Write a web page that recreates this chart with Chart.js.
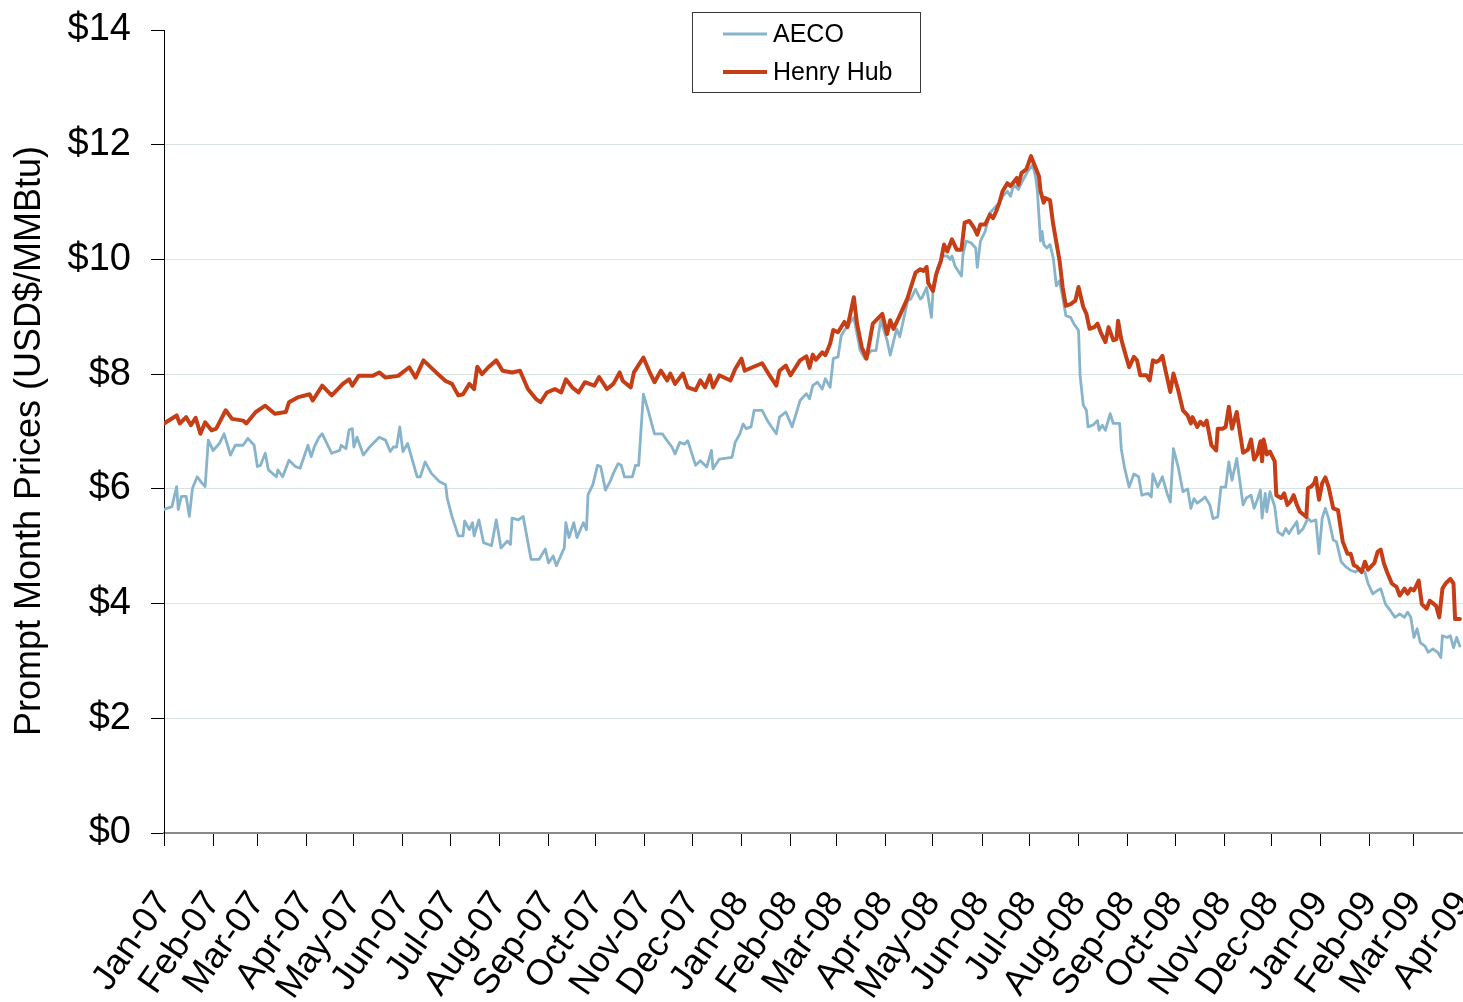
<!DOCTYPE html>
<html>
<head>
<meta charset="utf-8">
<title>AECO vs Henry Hub</title>
<script src="https://cdn.jsdelivr.net/npm/chart.js@4.4.0/dist/chart.umd.min.js"></script>
<style>
  html, body { margin: 0; padding: 0; background: #fff; overflow: hidden; }
  #wrap { position: relative; width: 1463px; height: 1002px; }
</style>
</head>
<body>
<div id="wrap"><canvas id="priceChart"></canvas></div>
<script>
// month axis (days counted from 1 Jan 2007)
const monthStarts = [0, 31, 59, 90, 120, 151, 181, 212, 243, 273, 304, 334,
  365, 396, 425, 456, 486, 517, 547, 578, 609, 639, 670, 700, 731, 762, 790, 821];
const monthLabels = ['Jan-07', 'Feb-07', 'Mar-07', 'Apr-07', 'May-07', 'Jun-07', 'Jul-07', 'Aug-07',
  'Sep-07', 'Oct-07', 'Nov-07', 'Dec-07', 'Jan-08', 'Feb-08', 'Mar-08', 'Apr-08', 'May-08', 'Jun-08',
  'Jul-08', 'Aug-08', 'Sep-08', 'Oct-08', 'Nov-08', 'Dec-08', 'Jan-09', 'Feb-09', 'Mar-09', 'Apr-09'];
const priceTicks = [0, 2, 4, 6, 8, 10, 12, 14];
const yTitle = 'Prompt Month Prices (USD$/MMBtu)';

// AECO prompt month price, USD/MMBtu
const aecoDays = [0, 5, 8, 9, 11, 14, 16, 18, 21, 24, 26, 28, 31, 35, 38, 42, 45, 50, 53, 57, 59, 61, 64, 66,
  71, 72, 75, 79, 83, 86, 91, 93, 95, 98, 100, 106, 111, 112, 115, 117, 119, 120, 122, 126, 130, 136,
  140, 143, 145, 147, 149, 151, 154, 157, 160, 162, 165, 169, 174, 178, 179, 182, 186, 189, 190, 193,
  195, 196, 199, 202, 207, 210, 213, 217, 219, 220, 224, 227, 232, 237, 241, 243, 246, 248, 253, 254,
  256, 259, 261, 265, 267, 268, 271, 274, 276, 279, 282, 284, 287, 289, 291, 296, 298, 300, 303, 306,
  310, 315, 318, 321, 323, 326, 329, 331, 336, 339, 343, 346, 347, 351, 359, 361, 364, 366, 368, 371,
  373, 378, 382, 387, 389, 393, 397, 402, 406, 408, 410, 413, 416, 418, 421, 423, 426, 428, 430, 436,
  440, 443, 447, 450, 453, 457, 459, 463, 465, 470, 472, 475, 478, 479, 482, 485, 486, 489, 492, 495,
  497, 498, 500, 504, 505, 507, 510, 513, 514, 516, 519, 522, 525, 528, 530, 533, 535, 537, 540, 543,
  546, 549, 551, 552, 554, 555, 556, 558, 560, 562, 564, 566, 568, 570, 573, 575, 578, 579, 581, 583,
  584, 587, 590, 591, 593, 595, 598, 600, 604, 605, 607, 610, 613, 616, 618, 622, 624, 625, 628, 631,
  634, 636, 638, 641, 644, 647, 649, 651, 653, 656, 658, 661, 663, 666, 668, 671, 673, 675, 678, 682,
  684, 687, 689, 691, 693, 694, 696, 697, 699, 702, 704, 707, 709, 711, 713, 716, 717, 720, 723, 725,
  728, 730, 732, 734, 736, 739, 741, 744, 747, 750, 753, 756, 759, 761, 764, 767, 769, 772, 775, 778,
  781, 784, 786, 788, 790, 792, 794, 797, 799, 802, 805, 807, 808, 811, 813, 815, 817, 819];
const aecoPrices = [5.64, 5.69, 6.04, 5.64, 5.87, 5.87, 5.52, 6.01, 6.21, 6.10, 6.04, 6.85, 6.67, 6.79, 6.96,
  6.59, 6.76, 6.76, 6.88, 6.76, 6.39, 6.41, 6.62, 6.33, 6.21, 6.33, 6.21, 6.50, 6.39, 6.36, 6.76, 6.56,
  6.73, 6.90, 6.96, 6.62, 6.67, 6.76, 6.70, 7.03, 7.05, 6.73, 6.90, 6.59, 6.73, 6.90, 6.85, 6.65, 6.73,
  6.73, 7.08, 6.65, 6.79, 6.50, 6.21, 6.21, 6.47, 6.27, 6.13, 6.07, 5.84, 5.52, 5.18, 5.18, 5.44, 5.29,
  5.41, 5.18, 5.46, 5.06, 5.01, 5.46, 4.97, 5.09, 5.03, 5.49, 5.46, 5.52, 4.77, 4.77, 4.95, 4.71, 4.83,
  4.66, 4.97, 5.41, 5.15, 5.41, 5.15, 5.41, 5.29, 5.90, 6.07, 6.41, 6.39, 5.98, 6.13, 6.27, 6.44, 6.41,
  6.21, 6.21, 6.41, 6.41, 7.65, 7.37, 6.96, 6.96, 6.84, 6.73, 6.61, 6.81, 6.78, 6.84, 6.41, 6.49, 6.38,
  6.67, 6.35, 6.52, 6.55, 6.81, 6.96, 7.13, 7.05, 7.08, 7.37, 7.37, 7.16, 6.96, 7.25, 7.34, 7.08, 7.54,
  7.66, 7.57, 7.80, 7.86, 7.74, 7.92, 7.77, 8.27, 8.30, 8.67, 8.76, 8.99, 8.41, 8.27, 8.41, 8.41, 8.94,
  8.59, 8.33, 8.79, 8.65, 9.28, 9.31, 9.48, 9.31, 9.33, 9.51, 8.99, 9.42, 9.86, 10.06, 10.06, 10.00,
  10.06, 9.88, 9.71, 10.09, 10.32, 10.29, 10.20, 9.86, 10.32, 10.49, 10.81, 10.90, 10.99, 11.10, 11.19,
  11.10, 11.30, 11.22, 11.39, 11.54, 11.65, 11.42, 11.19, 10.32, 10.49, 10.26, 10.20, 10.26, 10.03, 9.54,
  9.63, 9.34, 9.02, 8.99, 8.88, 8.76, 7.98, 7.46, 7.37, 7.08, 7.11, 7.19, 7.02, 7.11, 7.02, 7.31, 7.14,
  7.14, 6.70, 6.38, 6.03, 6.26, 6.21, 5.89, 5.92, 5.86, 6.26, 6.03, 6.21, 5.92, 5.77, 6.70, 6.38, 5.95,
  6.00, 5.66, 5.83, 5.75, 5.81, 5.86, 5.72, 5.48, 5.51, 6.03, 6.03, 6.47, 6.15, 6.53, 5.72, 5.84, 5.89,
  5.66, 5.81, 5.98, 5.49, 5.92, 5.60, 5.95, 5.69, 5.25, 5.19, 5.31, 5.22, 5.31, 5.43, 5.22, 5.31, 5.49,
  5.43, 5.46, 4.87, 5.49, 5.66, 5.49, 5.11, 5.08, 4.73, 4.64, 4.58, 4.55, 4.61, 4.55, 4.35, 4.17, 4.23,
  4.26, 3.99, 3.88, 3.76, 3.82, 3.76, 3.85, 3.76, 3.41, 3.56, 3.32, 3.26, 3.15, 3.21, 3.15, 3.06, 3.44,
  3.41, 3.44, 3.23, 3.41, 3.26];

// Henry Hub prompt month price, USD/MMBtu
const henryHubDays = [0, 8, 10, 14, 17, 20, 23, 26, 30, 33, 39, 43, 50, 52, 58, 64, 70, 77, 79, 85, 92, 94,
  100, 106, 113, 117, 119, 123, 132, 136, 140, 148, 155, 159, 164, 172, 178, 182, 186, 189, 193, 196,
  198, 201, 205, 210, 214, 220, 225, 230, 235, 238, 242, 247, 251, 254, 258, 262, 266, 272, 275, 280,
  284, 288, 290, 295, 297, 303, 307, 310, 314, 318, 320, 323, 328, 331, 336, 339, 342, 345, 347, 351,
  358, 361, 365, 367, 372, 378, 382, 387, 389, 393, 396, 402, 406, 408, 410, 412, 416, 418, 421, 423,
  426, 430, 432, 436, 438, 441, 444, 448, 454, 457, 459, 461, 465, 470, 472, 475, 478, 480, 482, 483,
  486, 488, 491, 493, 495, 498, 501, 504, 506, 509, 512, 514, 516, 519, 522, 524, 526, 528, 530, 533,
  535, 539, 540, 542, 545, 548, 551, 553, 554, 556, 557, 560, 562, 566, 568, 570, 573, 576, 578, 581,
  583, 585, 588, 590, 592, 595, 597, 600, 602, 603, 605, 607, 610, 613, 615, 617, 621, 623, 625, 627,
  629, 631, 633, 636, 638, 641, 644, 647, 649, 650, 653, 655, 657, 659, 662, 665, 666, 669, 671, 673,
  675, 678, 682, 685, 687, 689, 691, 693, 694, 695, 697, 699, 702, 703, 706, 708, 710, 712, 714, 716,
  718, 722, 723, 725, 727, 728, 730, 732, 734, 736, 739, 742, 745, 748, 750, 752, 754, 757, 759, 761,
  765, 767, 769, 771, 773, 776, 779, 781, 784, 786, 788, 790, 793, 795, 798, 800, 804, 806, 808, 810,
  813, 815, 816, 819];
const henryHubPrices = [7.14, 7.28, 7.14, 7.25, 7.11, 7.24, 6.96, 7.16, 7.02, 7.05, 7.37, 7.22, 7.19, 7.14,
  7.34, 7.45, 7.31, 7.34, 7.51, 7.60, 7.65, 7.54, 7.80, 7.63, 7.83, 7.91, 7.80, 7.97, 7.97, 8.03, 7.94,
  7.97, 8.12, 7.94, 8.24, 8.03, 7.88, 7.83, 7.63, 7.65, 7.83, 7.74, 8.13, 8.00, 8.12, 8.24, 8.06, 8.03,
  8.06, 7.74, 7.57, 7.51, 7.68, 7.74, 7.68, 7.91, 7.77, 7.68, 7.86, 7.80, 7.95, 7.74, 7.83, 8.03, 7.88,
  7.77, 8.03, 8.29, 8.03, 7.86, 8.06, 7.89, 8.01, 7.83, 8.01, 7.77, 7.72, 7.89, 7.77, 7.98, 7.77, 7.98,
  7.89, 8.09, 8.27, 8.06, 8.12, 8.19, 8.01, 7.80, 8.06, 8.15, 7.98, 8.24, 8.31, 8.11, 8.34, 8.25, 8.38,
  8.33, 8.53, 8.77, 8.73, 8.91, 8.82, 9.34, 8.88, 8.47, 8.27, 8.88, 9.05, 8.70, 8.94, 8.79, 9.02, 9.33,
  9.51, 9.77, 9.83, 9.80, 9.87, 9.59, 9.45, 9.74, 9.97, 10.26, 10.14, 10.35, 10.17, 10.17, 10.64, 10.67,
  10.55, 10.43, 10.61, 10.61, 10.78, 10.72, 10.84, 10.99, 11.19, 11.33, 11.28, 11.42, 11.30, 11.51,
  11.57, 11.80, 11.59, 11.45, 11.19, 10.99, 11.07, 11.03, 10.61, 9.98, 9.51, 9.19, 9.22, 9.28, 9.52,
  9.17, 9.05, 8.79, 8.82, 8.88, 8.73, 8.56, 8.82, 8.59, 8.61, 8.93, 8.61, 8.41, 8.12, 8.30, 8.24, 7.98,
  7.98, 7.89, 8.24, 8.21, 8.24, 8.32, 8.06, 7.69, 8.01, 7.72, 7.37, 7.28, 7.14, 7.25, 7.08, 7.17, 7.11,
  7.19, 6.76, 6.67, 7.05, 7.05, 7.08, 7.43, 7.05, 7.34, 6.63, 6.68, 6.86, 6.51, 6.60, 6.83, 6.48, 6.86,
  6.60, 6.65, 6.48, 5.89, 5.84, 5.92, 5.72, 5.78, 5.89, 5.72, 5.60, 5.51, 6.01, 6.04, 6.10, 6.19, 5.81,
  6.10, 6.20, 6.04, 5.66, 5.63, 5.08, 4.87, 4.87, 4.67, 4.64, 4.55, 4.73, 4.59, 4.71, 4.90, 4.94, 4.70,
  4.55, 4.35, 4.29, 4.14, 4.26, 4.17, 4.26, 4.23, 4.40, 3.99, 3.91, 4.05, 3.96, 3.76, 4.26, 4.35, 4.43,
  4.35, 3.73, 3.73];

const fontFamily = '"Liberation Sans", Arial, Helvetica, sans-serif';
Chart.defaults.font.family = fontFamily;
Chart.defaults.color = '#000';

function toPoints(days, prices) {
    return days.map((d, i) => ({ x: d, y: prices[i] }));
}

// boxed legend over the top of the plot, plus the rotated y title
const chartExtras = {
    id: 'chartExtras',
    afterDraw(chart) {
        const c = chart.ctx;
        c.save();
        c.strokeStyle = '#3a3a3a';
        c.lineWidth = 1;
        c.strokeRect(692.5, 12.5, 228, 80);
        c.font = '25px ' + fontFamily;
        c.textBaseline = 'middle';
        chart.data.datasets.forEach((ds, i) => {
            const y = 34 + i * 38;
            c.strokeStyle = ds.borderColor;
            c.lineWidth = ds.borderWidth;
            c.beginPath();
            c.moveTo(723, y);
            c.lineTo(767, y);
            c.stroke();
            c.fillStyle = '#000';
            c.fillText(ds.label, 773, y + 1);
        });
        c.restore();

        c.save();
        c.translate(30, 441);
        c.rotate(-Math.PI / 2);
        c.font = '36px ' + fontFamily;
        c.textAlign = 'center';
        c.textBaseline = 'middle';
        c.fillStyle = '#000';
        c.fillText(yTitle, 0, 0);
        c.restore();
    }
};

const ctx = document.getElementById('priceChart').getContext('2d');
new Chart(ctx, {
    type: 'line',
    data: {
        datasets: [{
            label: 'AECO',
            data: toPoints(aecoDays, aecoPrices),
            borderColor: '#87b3cb',
            borderWidth: 2.8,
            order: 1
        }, {
            label: 'Henry Hub',
            data: toPoints(henryHubDays, henryHubPrices),
            borderColor: '#c63e16',
            borderWidth: 4,
            order: 0
        }]
    },
    options: {
        responsive: true,
        maintainAspectRatio: false,
        devicePixelRatio: 1,
        animation: false,
        layout: { padding: { top: 30, right: 0, bottom: 0, left: 0 } },
        elements: {
            point: { radius: 0 },
            line: { tension: 0, borderJoinStyle: 'round', borderCapStyle: 'round' }
        },
        plugins: {
            legend: { display: false },
            tooltip: { enabled: false }
        },
        scales: {
            x: {
                type: 'linear',
                min: 0,
                max: 821,
                afterBuildTicks: (scale) => {
                    scale.ticks = monthStarts.map(v => ({ value: v }));
                },
                afterFit: (scale) => {
                    scale.height = 169;
                    scale.paddingLeft = 0;
                    scale.paddingRight = 0;
                },
                ticks: {
                    autoSkip: false,
                    minRotation: 55,
                    maxRotation: 55,
                    padding: 38,
                    font: { size: 36 },
                    callback: (value) => monthLabels[monthStarts.indexOf(value)]
                },
                grid: {
                    drawOnChartArea: false,
                    tickLength: 13,
                    tickColor: '#000',
                    tickWidth: 1
                },
                border: { color: '#8a8a8a', width: 2 }
            },
            y: {
                min: 0,
                max: 14,
                afterBuildTicks: (scale) => {
                    scale.ticks = priceTicks.map(v => ({ value: v }));
                },
                afterFit: (scale) => {
                    scale.width = 164;
                    scale.paddingTop = 0;
                    scale.paddingBottom = 0;
                },
                ticks: {
                    padding: 20,
                    font: { size: 38 },
                    callback: (value) => '$' + value
                },
                grid: {
                    color: (c) => (c.tick && c.tick.value === 14) ? 'rgba(0,0,0,0)' : '#d9e3e3',
                    tickLength: 13,
                    tickColor: '#000',
                    lineWidth: 1
                },
                border: { color: '#000', width: 1 }
            }
        }
    },
    plugins: [chartExtras]
});
</script>
</body>
</html>
